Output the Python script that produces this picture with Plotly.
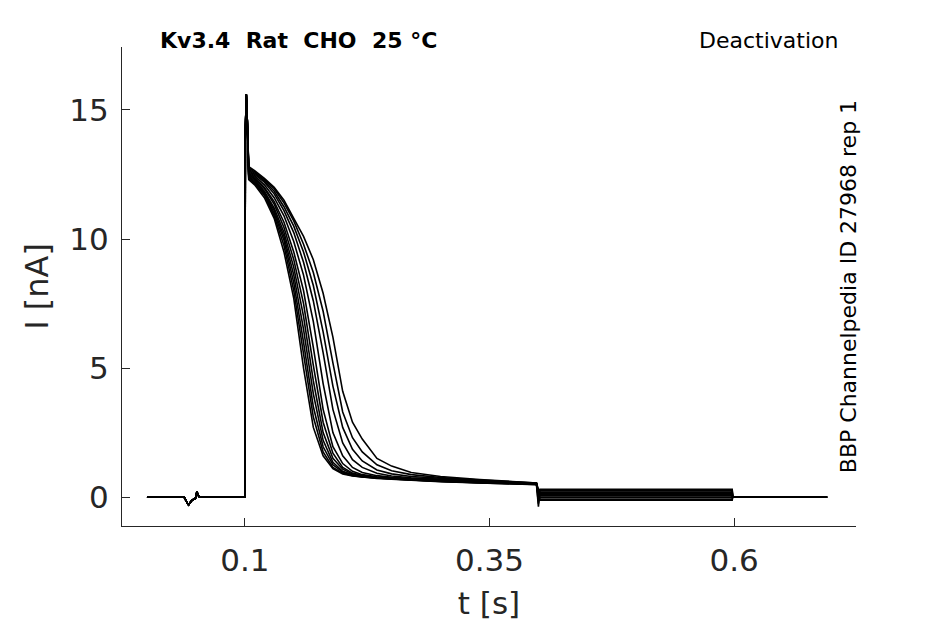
"""
Kv3.4 deactivation protocol: current sweeps recorded in CHO cells,
all sweeps drawn as thin black lines on one axis
"""
import plotly.graph_objects as go

# shared part of every sweep: holding, small glitch, onset spike
t_onset = [0.0, 0.038, 0.0415, 0.0425, 0.046, 0.0495, 0.051, 0.053, 0.0995,
           0.1, 0.1005, 0.1015, 0.1025, 0.1035]
i_onset = [0.0, 0.0, -0.25, -0.3, -0.12, -0.05, 0.2, 0.02, 0.0,
           0.0, 14.0, 15.6, 14.6, 12.9]

# decay of each sweep, read on a common time grid
t_decay = [0.104, 0.11, 0.12, 0.13, 0.14, 0.15, 0.16, 0.17, 0.18, 0.19,
           0.2, 0.21, 0.22, 0.235, 0.25, 0.27, 0.3, 0.34, 0.398]

sweep_01 = [12.3, 12.1, 11.6, 10.8, 9.5, 7.7, 5.0, 2.7, 1.6, 1.1,
            0.9, 0.82, 0.77, 0.72, 0.69, 0.65, 0.6, 0.55, 0.48]
sweep_02 = [12.35, 12.15, 11.7, 10.9, 9.75, 8.0, 5.5, 3.1, 1.75, 1.15,
            0.93, 0.83, 0.78, 0.73, 0.7, 0.66, 0.61, 0.55, 0.49]
sweep_03 = [12.4, 12.2, 11.75, 11.0, 9.95, 8.3, 6.0, 3.5, 1.95, 1.25,
            0.97, 0.85, 0.79, 0.74, 0.7, 0.66, 0.61, 0.56, 0.5]
sweep_04 = [12.45, 12.25, 11.8, 11.1, 10.1, 8.6, 6.5, 4.0, 2.2, 1.35,
            1.0, 0.87, 0.8, 0.75, 0.71, 0.67, 0.62, 0.56, 0.5]
sweep_05 = [12.5, 12.3, 11.85, 11.2, 10.25, 8.9, 7.0, 4.5, 2.5, 1.5,
            1.08, 0.9, 0.82, 0.76, 0.72, 0.68, 0.63, 0.57, 0.51]
sweep_06 = [12.5, 12.35, 11.95, 11.35, 10.45, 9.2, 7.5, 5.1, 2.9, 1.7,
            1.15, 0.93, 0.84, 0.77, 0.73, 0.69, 0.64, 0.58, 0.51]
sweep_07 = [12.55, 12.4, 12.0, 11.45, 10.65, 9.5, 8.0, 5.8, 3.4, 1.95,
            1.3, 1.0, 0.87, 0.79, 0.74, 0.7, 0.65, 0.59, 0.52]
sweep_08 = [12.6, 12.45, 12.1, 11.6, 10.9, 9.9, 8.6, 6.8, 4.4, 2.5,
            1.6, 1.15, 0.95, 0.83, 0.77, 0.72, 0.67, 0.6, 0.53]
sweep_09 = [12.65, 12.5, 12.2, 11.75, 11.1, 10.25, 9.1, 7.6, 5.6, 3.4,
            2.1, 1.45, 1.15, 0.92, 0.82, 0.75, 0.69, 0.62, 0.53]
sweep_10 = [12.7, 12.55, 12.25, 11.85, 11.25, 10.5, 9.5, 8.2, 6.4, 4.3,
            2.7, 1.85, 1.4, 1.05, 0.9, 0.8, 0.72, 0.64, 0.54]
sweep_11 = [12.75, 12.6, 12.3, 11.95, 11.4, 10.7, 9.8, 8.7, 7.2, 5.2,
            3.3, 2.3, 1.75, 1.25, 1.02, 0.87, 0.76, 0.66, 0.55]
sweep_12 = [12.8, 12.65, 12.35, 12.0, 11.5, 10.8, 10.1, 9.2, 7.9, 6.2,
            4.1, 2.9, 2.25, 1.5, 1.2, 0.95, 0.8, 0.68, 0.55]
sweeps = [sweep_01, sweep_02, sweep_03, sweep_04, sweep_05, sweep_06,
          sweep_07, sweep_08, sweep_09, sweep_10, sweep_11, sweep_12]

# tail: step at 0.4 s, level held to 0.6 s, back to zero until the end
t_tail = [0.4, 0.4015, 0.598, 0.5985, 0.695]
tail_spike = [0.1, -0.37, 0.2, 0.0, 0.15, -0.25, 0.05, 0.1, 0.25, -0.05, 0.3, 0.12]
tail_level = [0.3, 0.25, 0.2, 0.15, 0.1, 0.05, 0.0, -0.08, 0.28, 0.18, 0.08, -0.12]

fig = go.Figure()
for k, sw in enumerate(sweeps):
    t = t_onset + t_decay + t_tail
    y = i_onset + sw + [tail_spike[k], tail_level[k], tail_level[k], 0.0, 0.0]
    fig.add_trace(go.Scatter(x=t, y=y, mode='lines', showlegend=False,
                             line=dict(color='black', width=1.6)))

txt = '#262626'
fig.update_xaxes(range=[-0.0255, 0.7245], tickvals=[0.1, 0.35, 0.6],
                 ticktext=['0.1', '0.35', '0.6'],
                 showline=True, linecolor='#262626', linewidth=1,
                 ticks='inside', ticklen=8, tickcolor='#262626',
                 showgrid=False, zeroline=False, automargin=False,
                 tickfont=dict(size=31, color=txt), ticklabelstandoff=7,
                 title=dict(text='t [s]', font=dict(size=31, color=txt), standoff=15))
fig.update_yaxes(range=[-1.12, 17.44], tickvals=[0, 5, 10, 15],
                 showline=True, linecolor='#262626', linewidth=1,
                 ticks='inside', ticklen=8, tickcolor='#262626',
                 showgrid=False, zeroline=False, automargin=False,
                 tickfont=dict(size=31, color=txt), ticklabelstandoff=6,
                 title=dict(text='I [nA]', font=dict(size=32, color=txt), standoff=11))

# page body adds 8 px on the left and top, so the figure is 8 px smaller
fig.update_layout(
    width=937, height=616,
    margin=dict(l=114, r=89, t=39, b=98),
    paper_bgcolor='white', plot_bgcolor='white',
    font=dict(family='DejaVu Sans', color=txt),
    annotations=[
        dict(text='<b>Kv3.4  Rat  CHO  25 °C</b>', xref='paper', yref='paper',
             x=0.049, y=1.0146, xanchor='left', yanchor='middle', showarrow=False,
             font=dict(size=22, color='black')),
        dict(text='Deactivation', xref='paper', yref='paper',
             x=0.978, y=1.0146, xanchor='right', yanchor='middle', showarrow=False,
             font=dict(size=22, color='black')),
        dict(text='BBP Channelpedia ID 27968 rep 1', xref='paper', yref='paper',
             x=0.99, y=0.5, xanchor='center', yanchor='middle', showarrow=False,
             textangle=-90, font=dict(size=22, color='black')),
    ],
)

fig.write_html("out.html")
